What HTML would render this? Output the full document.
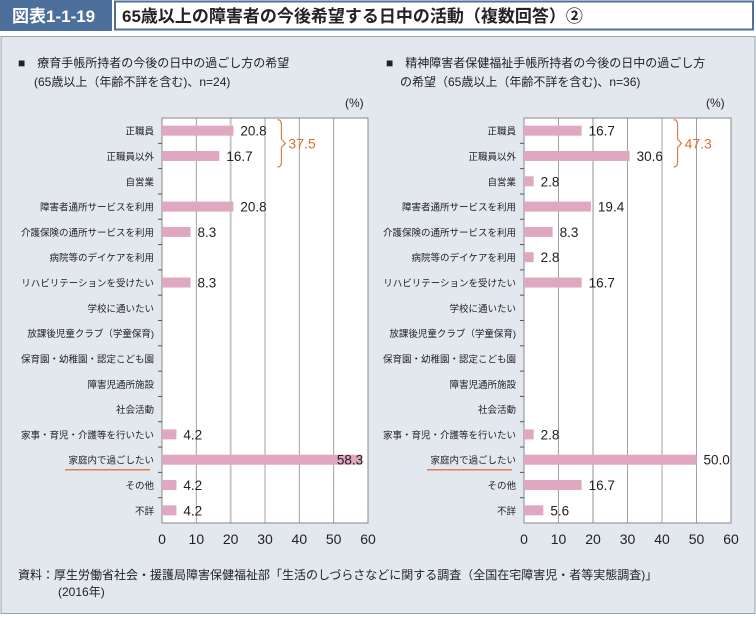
<!DOCTYPE html>
<html><head><meta charset="utf-8"><style>
body{margin:0;width:756px;height:615px;background:#fff;font-family:"Liberation Sans","Noto Sans CJK JP",sans-serif;overflow:hidden}
</style></head><body>
<svg width="756" height="615" xmlns="http://www.w3.org/2000/svg" font-family="Liberation Sans, Noto Sans CJK JP, sans-serif">
<rect x="0" y="0" width="112" height="31" fill="#4d6f9c"/>
<text x="12" y="22" font-size="17" font-weight="bold" fill="#fff">図表1-1-19</text>
<rect x="115" y="1.5" width="638" height="28" fill="#fff" stroke="#4d6f9c" stroke-width="2"/>
<text x="122" y="22" font-size="17" font-weight="bold" fill="#222">65歳以上の障害者の今後希望する日中の活動（複数回答）②</text>
<rect x="1" y="36.5" width="754" height="577" fill="#e3e8ee" stroke="#9aa3ad" stroke-width="1"/>
<text font-size="12" fill="#222"><tspan x="18" y="67">■　療育手帳所持者の今後の日中の過ごし方の希望</tspan><tspan x="34" y="86">(65歳以上（年齢不詳を含む)、n=24)</tspan></text>
<text font-size="12" fill="#222"><tspan x="386" y="67">■　精神障害者保健福祉手帳所持者の今後の日中の過ごし方</tspan><tspan x="400" y="86">の希望（65歳以上（年齢不詳を含む)、n=36)</tspan></text>
<text x="345" y="107" font-size="12" fill="#222">(%)</text>
<text x="706" y="107" font-size="12" fill="#222">(%)</text>
<g id="left"></g><g id="right"></g>
<text font-size="12" fill="#222"><tspan x="18" y="579">資料：厚生労働省社会・援護局障害保健福祉部「生活のしづらさなどに関する調査（全国在宅障害児・者等実態調査)」</tspan><tspan x="58" y="596">(2016年)</tspan></text>
</svg>
<script>
const cats=["正職員","正職員以外","自営業","障害者通所サービスを利用","介護保険の通所サービスを利用","病院等のデイケアを利用","リハビリテーションを受けたい","学校に通いたい","放課後児童クラブ（学童保育)","保育園・幼稚園・認定こども園","障害児通所施設","社会活動","家事・育児・介護等を行いたい","家庭内で過ごしたい","その他","不詳"];
const leftValues=[20.8,16.7,null,20.8,8.3,null,8.3,null,null,null,null,null,4.2,58.3,4.2,4.2];
const rightValues=[16.7,30.6,2.8,19.4,8.3,2.8,16.7,null,null,null,null,null,2.8,50.0,16.7,5.6];
const ticks=[0,10,20,30,40,50,60];
const leftSum="37.5", rightSum="47.3";
const NS="http://www.w3.org/2000/svg";
function mk(p,t,a){const e=document.createElementNS(NS,t);for(const k in a)e.setAttribute(k,a[k]);p.appendChild(e);return e;}
function chart(g,x0,x1,vals,sum,pfx){
  const top=118,bot=523,n=cats.length,step=(bot-top)/n;
  const X=v=>x0+(x1-x0)*v/60, Y=i=>top+step*(i+0.5);
  const bg=mk(g,'rect',{x:x0,y:top,width:x1-x0,height:bot-top,fill:'#fff'});
  
  
  ticks.forEach(t=>{
    if(t>0&&t<60){const l=mk(g,'line',{x1:X(t),x2:X(t),y1:top,y2:bot,stroke:t==20?'#c8c8c8':'#a0a0a0','stroke-width':t==20?2:1});
      
      }
    const tx=mk(g,'text',{x:X(t),y:544,'font-size':14,'text-anchor':'middle',fill:'#222'});tx.textContent=t;
    
    
  });
  const fr=mk(g,'rect',{x:x0,y:top,width:x1-x0,height:bot-top,fill:'none',stroke:'#888'});
  
  
  for(let i=1;i<n;i++){mk(g,'line',{x1:x0-4,x2:x0,y1:top+step*i,y2:top+step*i,stroke:'#555'});}
  cats.forEach((c,i)=>{
    const t=mk(g,'text',{x:x0-8,y:Y(i)+4,'font-size':9.5,'text-anchor':'end',fill:'#222'});t.textContent=c;
    
    
    if(i==13){const u=mk(g,'line',{x1:x0-97,x2:x0-12,y1:Y(i)+10,y2:Y(i)+10,stroke:'#d9804f','stroke-width':1.5});
      
      }
    const v=vals[i]; if(v==null)return;
    const b=mk(g,'rect',{x:x0,y:Y(i)-5,width:X(v)-x0,height:10,fill:'#e0a7c1'});
    
    
    const inside=X(v)+40>x1+12;
    const lb=mk(g,'text',{x:inside?X(v)+1:X(v)+7,y:Y(i)+5,'font-size':13.5,'text-anchor':inside?'end':'start',fill:'#222'});
    lb.textContent=v.toFixed(1);
    
    
  });
  const bx=X(Math.max(vals[0],vals[1]))+48,y1=Y(0)-11,y2=Y(1)+11,ym=(y1+y2)/2;
  const br=mk(g,'path',{d:`M${bx-4},${y1} Q${bx},${y1} ${bx},${y1+5} L${bx},${ym-4} L${bx+4},${ym} L${bx},${ym+4} L${bx},${y2-5} Q${bx},${y2} ${bx-4},${y2}`,fill:'none',stroke:'#d9804f','stroke-width':1.2});
  
  
  const st=mk(g,'text',{x:bx+7,y:ym+5,'font-size':14,fill:'#e07030'});st.textContent=sum;
  
  
}
chart(document.getElementById('left'),162,368,leftValues,leftSum,'left');
chart(document.getElementById('right'),524,731,rightValues,rightSum,'right');
</script>
</body></html>
